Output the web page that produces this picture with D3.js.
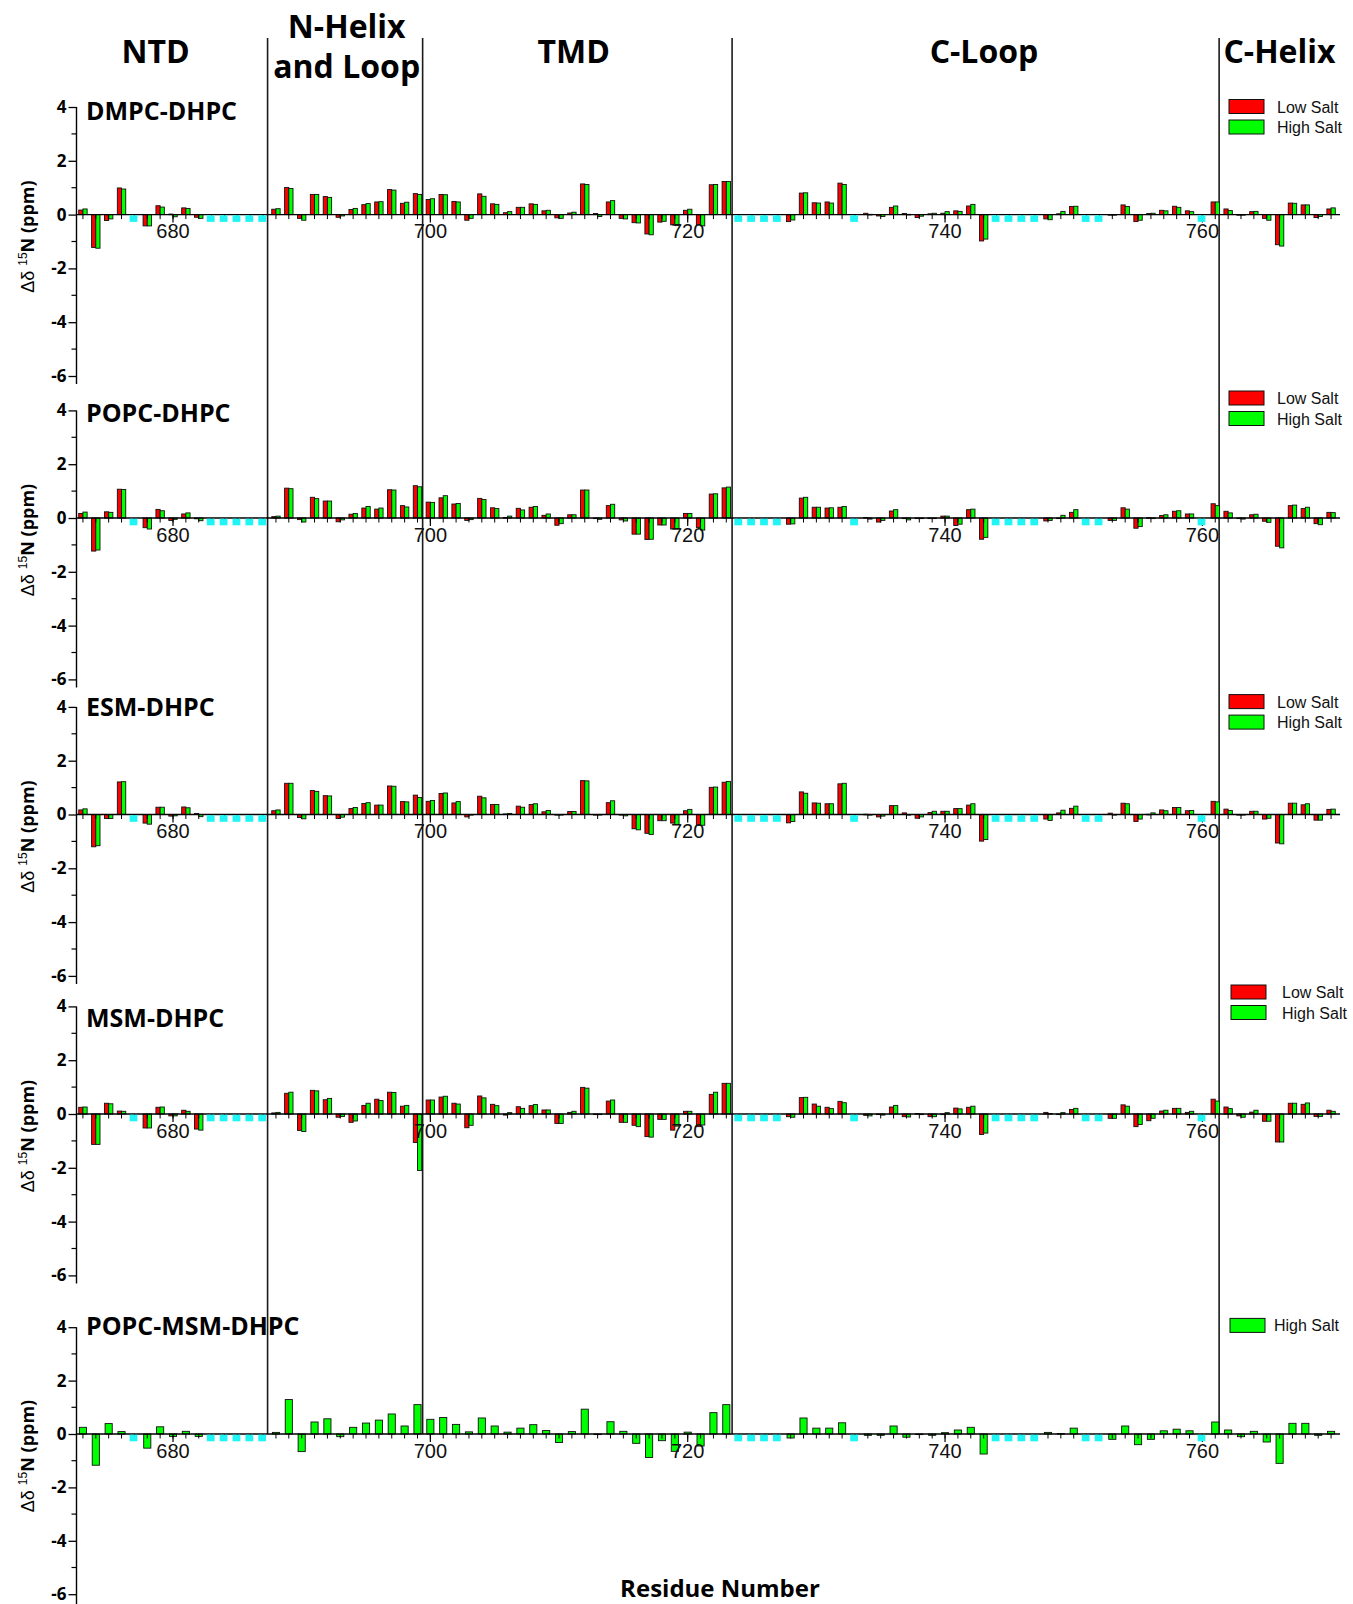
<!DOCTYPE html>
<html>
<head>
<meta charset="utf-8">
<script src="https://cdn.jsdelivr.net/npm/d3@7"></script>
<style>
  body { margin: 0; background: #fff; }
  svg { display: block; }
</style>
</head>
<body>
<svg id="chart" width="1353" height="1604"></svg>
<script>
// Residue numbers along the sequence
const residues = [
  673,674,675,676,677,678,679,680,681,682,683,684,685,686,687,688,689,690,691,692,
  693,694,695,696,697,698,699,700,701,702,703,704,705,706,707,708,709,710,711,712,
  713,714,715,716,717,718,719,720,721,722,723,724,725,726,727,728,729,730,731,732,
  733,734,735,736,737,738,739,740,741,742,743,744,745,746,747,748,749,750,751,752,
  753,754,755,756,757,758,759,760,761,762,763,764,765,766,767,768,769,770
];

// Residues without an assigned peak (drawn as cyan markers)
const unassigned = [677,683,684,685,686,687,724,725,726,727,733,744,745,746,747,751,752,760];

// Tick labels of the residue axis
const residueTicks = [680,700,720,740,760];
const ppmTicks = [-6,-4,-2,0,2,4];
const ppmMinorTicks = [-5,-3,-1,1,3];

// Domain names and boundaries
const domainNames = ["NTD", "N-Helix|and Loop", "TMD", "C-Loop", "C-Helix"];
const domainBounds = [687.35, 699.4, 723.45, 761.3];

// Membrane mimetics, one panel each
const membranes = ["DMPC-DHPC", "POPC-DHPC", "ESM-DHPC", "MSM-DHPC", "POPC-MSM-DHPC"];
const seriesNames = ["Low Salt", "High Salt"];

// Δδ 15N (ppm), residue 673..770, null = unassigned
const dmpcLow = [
  0.17,-1.22,-0.22,0.99,null,-0.42,0.33,0.02,0.25,-0.10,
  null,null,null,null,null,
  0.20,1.01,-0.14,0.75,0.67,-0.10,0.19,0.37,0.47,0.93,0.42,0.78,
  0.56,0.75,0.49,-0.21,0.77,0.40,0.07,0.27,0.40,0.14,
  -0.12,0.06,1.14,0.04,0.47,-0.14,-0.30,-0.72,-0.28,-0.38,
  0.16,-0.38,1.11,1.23,
  null,null,null,null,
  -0.26,0.80,0.44,0.47,1.17,
  null,
  0.05,-0.05,0.27,0.04,-0.11,0.03,0.05,0.14,0.32,-0.98,
  null,null,null,null,
  -0.16,0.03,0.30,
  null,null,
  -0.02,0.36,-0.26,0.04,0.16,0.31,0.14,
  null,
  0.47,0.21,0.00,0.11,-0.14,-1.12,0.43,0.36,-0.11,0.21
];
const dmpcHigh = [
  0.21,-1.25,-0.16,0.95,null,-0.42,0.28,-0.08,0.23,-0.14,
  null,null,null,null,null,
  0.22,0.97,-0.21,0.75,0.64,-0.05,0.23,0.41,0.48,0.91,0.46,0.75,
  0.59,0.74,0.47,-0.14,0.68,0.38,0.11,0.27,0.38,0.16,
  -0.14,0.09,1.12,-0.07,0.52,-0.16,-0.31,-0.75,-0.25,-0.41,
  0.20,-0.42,1.12,1.23,
  null,null,null,null,
  -0.20,0.81,0.43,0.43,1.12,
  null,
  0.01,-0.07,0.32,0.01,-0.06,0.05,0.11,0.12,0.38,-0.91,
  null,null,null,null,
  -0.19,0.12,0.31,
  null,null,
  -0.02,0.30,-0.21,0.05,0.14,0.27,0.11,
  null,
  0.47,0.15,-0.02,0.12,-0.21,-1.17,0.42,0.36,-0.07,0.25
];
const popcLow = [
  0.17,-1.23,0.23,1.07,null,-0.36,0.32,-0.09,0.15,-0.03,
  null,null,null,null,null,
  0.05,1.11,-0.06,0.77,0.63,-0.14,0.14,0.37,0.33,1.05,0.46,1.20,
  0.59,0.75,0.52,-0.09,0.73,0.38,0.02,0.36,0.40,0.10,
  -0.27,0.12,1.04,0.00,0.46,-0.07,-0.60,-0.80,-0.26,-0.41,
  0.17,-0.35,0.89,1.12,
  null,null,null,null,
  -0.23,0.74,0.40,0.37,0.40,
  null,
  0.02,-0.15,0.26,0.00,0.00,0.00,0.07,-0.28,0.31,-0.79,
  null,null,null,null,
  -0.11,0.00,0.21,
  null,null,
  -0.09,0.38,-0.38,0.01,0.09,0.25,0.15,
  null,
  0.53,0.25,-0.02,0.12,-0.12,-1.05,0.46,0.35,-0.21,0.21
];
const popcHigh = [
  0.22,-1.19,0.21,1.06,null,-0.41,0.27,-0.05,0.19,-0.10,
  null,null,null,null,null,
  0.07,1.09,-0.15,0.72,0.63,-0.07,0.17,0.43,0.37,1.04,0.41,1.16,
  0.58,0.83,0.54,-0.06,0.69,0.35,0.07,0.30,0.43,0.15,
  -0.21,0.12,1.04,-0.05,0.51,-0.11,-0.60,-0.79,-0.26,-0.41,
  0.17,-0.45,0.90,1.15,
  null,null,null,null,
  -0.22,0.77,0.40,0.38,0.43,
  null,
  -0.04,-0.09,0.31,-0.07,0.00,0.00,0.07,-0.23,0.33,-0.72,
  null,null,null,null,
  -0.09,0.10,0.31,
  null,null,
  -0.09,0.33,-0.32,0.00,0.12,0.27,0.15,
  null,
  0.46,0.19,-0.04,0.14,-0.16,-1.11,0.48,0.40,-0.25,0.20
];
const esmLow = [
  0.17,-1.20,-0.15,1.21,null,-0.32,0.27,-0.06,0.28,0.04,
  null,null,null,null,null,
  0.14,1.16,-0.11,0.89,0.70,-0.15,0.22,0.41,0.35,1.06,0.48,0.72,
  0.49,0.78,0.43,-0.09,0.68,0.37,0.02,0.31,0.37,0.10,
  0.00,0.11,1.26,0.00,0.44,-0.02,-0.53,-0.70,-0.23,-0.32,
  0.14,-0.40,1.01,1.20,
  null,null,null,null,
  -0.31,0.84,0.43,0.40,1.14,
  null,
  0.01,-0.09,0.33,0.06,-0.14,0.07,0.12,0.22,0.35,-0.99,
  null,null,null,null,
  -0.17,0.06,0.23,
  null,null,
  0.05,0.42,-0.26,0.01,0.17,0.26,0.14,
  null,
  0.49,0.20,-0.01,0.12,-0.17,-1.06,0.42,0.36,-0.21,0.19
];
const esmHigh = [
  0.21,-1.16,-0.15,1.22,null,-0.36,0.27,-0.05,0.25,-0.08,
  null,null,null,null,null,
  0.17,1.16,-0.16,0.86,0.69,-0.10,0.26,0.44,0.35,1.05,0.47,0.63,
  0.52,0.80,0.48,0.00,0.62,0.37,0.04,0.27,0.40,0.15,
  -0.02,0.11,1.25,-0.02,0.51,-0.05,-0.57,-0.74,-0.23,-0.37,
  0.19,-0.40,1.02,1.23,
  null,null,null,null,
  -0.26,0.79,0.42,0.40,1.16,
  null,
  -0.01,-0.06,0.33,0.00,-0.09,0.12,0.12,0.22,0.40,-0.93,
  null,null,null,null,
  -0.22,0.16,0.31,
  null,null,
  0.00,0.40,-0.17,0.06,0.14,0.26,0.15,
  null,
  0.47,0.15,-0.02,0.12,-0.14,-1.09,0.42,0.40,-0.21,0.20
];
const msmLow = [
  0.25,-1.13,0.40,0.11,null,-0.52,0.25,-0.07,0.14,-0.56,
  null,null,null,null,null,
  0.04,0.77,-0.61,0.88,0.53,-0.12,-0.31,0.32,0.55,0.81,0.29,-1.06,
  0.52,0.63,0.40,-0.51,0.67,0.36,-0.04,0.27,0.31,0.15,
  -0.35,0.06,0.99,0.00,0.48,-0.31,-0.42,-0.84,-0.20,-0.60,
  0.10,-0.47,0.73,1.14,
  null,null,null,null,
  -0.10,0.61,0.37,0.25,0.47,
  null,
  -0.05,-0.02,0.26,-0.10,0.02,-0.10,0.00,0.22,0.25,-0.76,
  null,null,null,null,
  0.06,0.00,0.17,
  null,null,
  -0.16,0.34,-0.47,-0.25,0.11,0.21,0.06,
  null,
  0.55,0.26,-0.07,0.07,-0.27,-1.04,0.40,0.36,-0.09,0.14
];
const msmHigh = [
  0.26,-1.13,0.38,0.10,null,-0.52,0.26,-0.07,0.10,-0.60,
  null,null,null,null,null,
  0.06,0.81,-0.65,0.86,0.58,-0.09,-0.26,0.40,0.50,0.80,0.32,-2.10,
  0.52,0.66,0.37,-0.42,0.60,0.31,0.05,0.21,0.35,0.15,
  -0.35,0.10,0.96,0.00,0.52,-0.31,-0.47,-0.86,-0.20,-0.45,
  0.10,-0.41,0.81,1.14,
  null,null,null,null,
  -0.12,0.62,0.29,0.20,0.42,
  null,
  -0.07,-0.04,0.32,-0.11,0.00,-0.10,0.05,0.19,0.29,-0.71,
  null,null,null,null,
  0.02,0.05,0.21,
  null,null,
  -0.16,0.29,-0.39,-0.16,0.14,0.21,0.10,
  null,
  0.48,0.20,-0.12,0.14,-0.27,-1.04,0.40,0.41,-0.09,0.10
];
const popcMsmHigh = [
  0.25,-1.17,0.39,0.09,null,-0.53,0.27,-0.09,0.10,-0.09,
  null,null,null,null,null,
  0.06,1.29,-0.66,0.45,0.57,-0.10,0.25,0.41,0.52,0.75,0.30,1.10,
  0.55,0.62,0.36,0.08,0.60,0.30,0.07,0.22,0.35,0.13,
  -0.32,0.09,0.93,0.00,0.46,0.10,-0.35,-0.88,-0.25,-0.65,
  0.07,-0.45,0.80,1.10,
  null,null,null,null,
  -0.15,0.60,0.22,0.22,0.42,
  null,
  -0.05,-0.05,0.30,-0.12,0.00,-0.05,0.05,0.15,0.25,-0.75,
  null,null,null,null,
  0.06,0.02,0.22,
  null,null,
  -0.20,0.30,-0.40,-0.20,0.12,0.18,0.12,
  null,
  0.45,0.15,-0.10,0.10,-0.30,-1.10,0.40,0.40,-0.05,0.10
];

const panelSeries = [
  [dmpcLow, dmpcHigh],
  [popcLow, popcHigh],
  [esmLow, esmHigh],
  [msmLow, msmHigh],
  [null, popcMsmHigh]
];

// ---- layout (pixels) ----
const W = 1353, H = 1604;
const panelZero = [214.6, 518, 814.5, 1114, 1434];
const panelUnit = [26.9, 26.9, 26.9, 26.9, 26.7];   // pixels per ppm
const labelBaseline = [120, 421.7, 716.4, 1027.3, 1335];
const legendTop = [99.5, 391, 694.6, 985, 1318.4];
const legendBoxX = [1229, 1229, 1229, 1231, 1230];
const legendTextX = [1277, 1277, 1277, 1282, 1274];
const colors = { low: "#ff0000", high: "#00ff00", none: "#1ff5f5" };
const boldFont = "'Open Sans', 'DejaVu Sans', sans-serif";
const plainFont = "'Liberation Sans', Arial, sans-serif";

const svg = d3.select("#chart");
svg.append("rect").attr("width", W).attr("height", H).attr("fill", "#fff");

const x = d3.scaleLinear().domain([672.5, 770.5]).range([76.5, 1337.5]);
const barW = 4.2;

// Domain separators and headings
const domainG = svg.append("g");
domainBounds.forEach(b => {
  domainG.append("line")
    .attr("x1", x(b)).attr("x2", x(b))
    .attr("y1", 38).attr("y2", panelZero[4])
    .attr("stroke", "#1b1b1b").attr("stroke-width", 1.6);
});
const headingX = [155.5, 346.7, 573.7, 984, 1279.5];
domainNames.forEach((name, i) => {
  const lines = name.split("|");
  const t = domainG.append("text")
    .attr("x", headingX[i])
    .attr("text-anchor", "middle")
    .attr("font-family", boldFont).attr("font-weight", 700)
    .attr("font-size", 32).attr("fill", "#000");
  if (lines.length === 1) {
    t.attr("y", 63).text(name);
  } else {
    t.attr("y", 37.5);
    lines.forEach((ln, k) => t.append("tspan")
      .attr("x", headingX[i]).attr("dy", k === 0 ? 0 : 40).text(ln));
  }
});

membranes.forEach((name, p) => {
  const z = panelZero[p];
  const u = panelUnit[p];
  const y = d3.scaleLinear().domain([-6, 4]).range([z + 6 * u, z - 4 * u]);
  const g = svg.append("g");
  const [low, high] = panelSeries[p];
  const paired = low !== null;

  const rows = residues.map((r, i) => ({ r, low: paired ? low[i] : null, high: high[i] }))
    .filter(d => d.high !== null);

  const barY = v => Math.min(y(v), y(0));
  const barH = v => Math.max(Math.abs(y(v) - y(0)), 0.6);

  if (paired) {
    g.selectAll("rect.low").data(rows).join("rect")
      .attr("class", "low")
      .attr("x", d => x(d.r) - barW).attr("width", barW)
      .attr("y", d => barY(d.low)).attr("height", d => barH(d.low))
      .attr("fill", colors.low).attr("stroke", "#111").attr("stroke-width", 0.9);
    g.selectAll("rect.high").data(rows).join("rect")
      .attr("class", "high")
      .attr("x", d => x(d.r)).attr("width", barW)
      .attr("y", d => barY(d.high)).attr("height", d => barH(d.high))
      .attr("fill", colors.high).attr("stroke", "#111").attr("stroke-width", 0.9);
  } else {
    g.selectAll("rect.high").data(rows).join("rect")
      .attr("class", "high")
      .attr("x", d => x(d.r) - barW * 0.85).attr("width", barW * 1.7)
      .attr("y", d => barY(d.high)).attr("height", d => barH(d.high))
      .attr("fill", colors.high).attr("stroke", "#111").attr("stroke-width", 0.9);
  }

  // Residue axis along zero
  const xAxis = g.append("g").attr("transform", `translate(0,${y(0)})`);
  xAxis.append("line").attr("x1", x(672.5)).attr("x2", x(770.7))
    .attr("stroke", "#000").attr("stroke-width", 1.3);
  xAxis.selectAll("line.minor").data(residues).join("line")
    .attr("class", "minor")
    .attr("x1", d => x(d)).attr("x2", d => x(d))
    .attr("y1", 0).attr("y2", 4.5)
    .attr("stroke", "#000").attr("stroke-width", 1);
  xAxis.selectAll("line.major").data(residueTicks).join("line")
    .attr("class", "major")
    .attr("x1", d => x(d)).attr("x2", d => x(d))
    .attr("y1", 0).attr("y2", 8)
    .attr("stroke", "#000").attr("stroke-width", 1.2);
  xAxis.selectAll("text").data(residueTicks).join("text")
    .attr("x", d => x(d)).attr("y", 23.5)
    .attr("text-anchor", "middle")
    .attr("font-family", plainFont).attr("font-size", 20).attr("fill", "#111")
    .text(d => d);

  // Unassigned residues, drawn over the axis ticks
  g.selectAll("rect.none").data(unassigned).join("rect")
    .attr("class", "none")
    .attr("x", r => x(r) - 4.8).attr("width", 7.8)
    .attr("y", y(0) + 0.7).attr("height", 6.6)
    .attr("fill", colors.none);

  // ppm axis
  const yAxis = g.append("g").attr("transform", "translate(76.5,0)")
    .call(d3.axisLeft(y).tickValues(ppmTicks).tickSize(8).tickSizeOuter(0)
      .tickFormat(d => String(d)));
  yAxis.select(".domain").remove();
  yAxis.append("line")
    .attr("x1", 0).attr("x2", 0)
    .attr("y1", y(4)).attr("y2", p === 4 ? H : y(-6) + 8)
    .attr("stroke", "#000").attr("stroke-width", 1.4);
  yAxis.selectAll(".tick line").attr("stroke", "#000").attr("stroke-width", 1.3);
  yAxis.selectAll(".tick text")
    .attr("font-family", boldFont).attr("font-weight", 700)
    .attr("font-size", 17).attr("fill", "#000").attr("x", -10);
  yAxis.selectAll("line.minor").data(ppmMinorTicks).join("line")
    .attr("class", "minor")
    .attr("x1", -5).attr("x2", 0)
    .attr("y1", d => y(d)).attr("y2", d => y(d))
    .attr("stroke", "#000").attr("stroke-width", 1.2);

  // Axis title
  const title = g.append("text")
    .attr("transform", `translate(34,${z + 22}) rotate(-90)`)
    .attr("text-anchor", "middle").attr("fill", "#000")
    .attr("font-size", 18);
  title.append("tspan").attr("font-family", plainFont).text("Δδ ");
  title.append("tspan").attr("font-family", plainFont).attr("font-size", 12)
    .attr("dy", -7).text("15");
  title.append("tspan").attr("font-family", boldFont).attr("font-weight", 700)
    .attr("dy", 7).text("N (ppm)");

  // Panel name
  g.append("text")
    .attr("x", 86).attr("y", labelBaseline[p])
    .attr("font-family", boldFont).attr("font-weight", 700)
    .attr("font-size", 25).attr("fill", "#000")
    .text(name);

  // Legend
  const legendRows = paired
    ? [{ name: seriesNames[0], c: colors.low }, { name: seriesNames[1], c: colors.high }]
    : [{ name: seriesNames[1], c: colors.high }];
  const lg = g.append("g").attr("transform", `translate(0,${legendTop[p]})`);
  legendRows.forEach((d, k) => {
    lg.append("rect")
      .attr("x", legendBoxX[p]).attr("y", k * 20.5)
      .attr("width", 35).attr("height", 14)
      .attr("fill", d.c).attr("stroke", "#111").attr("stroke-width", 1);
    lg.append("text")
      .attr("x", legendTextX[p]).attr("y", k * 20.5 + 13)
      .attr("font-family", plainFont).attr("font-size", 16).attr("fill", "#111")
      .text(d.name);
  });
});

// Residue axis title
svg.append("text")
  .attr("x", 720).attr("y", 1597)
  .attr("text-anchor", "middle")
  .attr("font-family", boldFont).attr("font-weight", 700)
  .attr("font-size", 24).attr("fill", "#000")
  .text("Residue Number");
</script>
</body>
</html>
